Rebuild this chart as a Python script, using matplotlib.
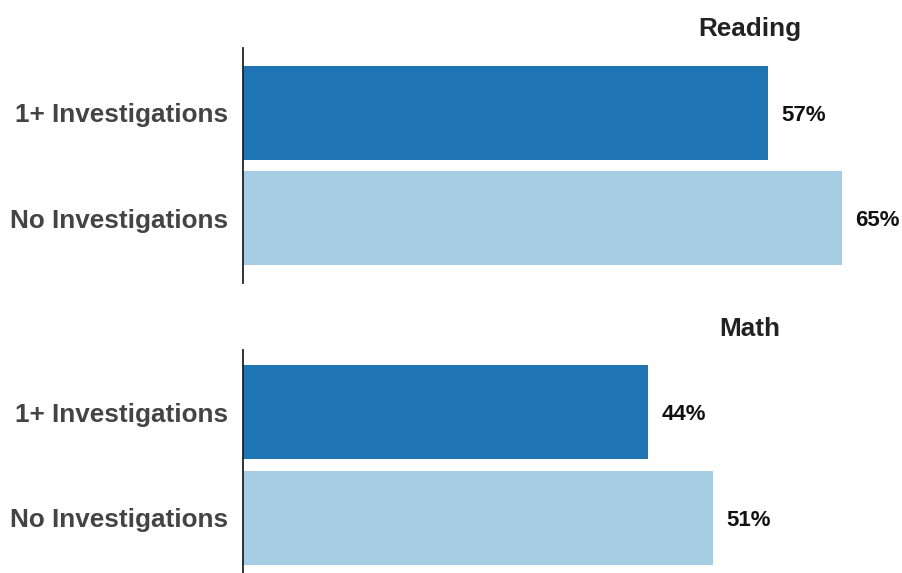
import matplotlib
matplotlib.use("Agg")
import matplotlib.pyplot as plt

categories = ["1+ Investigations", "No Investigations"]
reading = [57, 65]
math_vals = [44, 51]
titles = ["Reading", "Math"]
colors = ["#1f74b4", "#a6cde3"]

plt.rcParams['font.family'] = ['Liberation Sans', 'DejaVu Sans']

W, H = 903, 573
fig = plt.figure(figsize=(W / 100, H / 100), dpi=100)

def px_axes(left, top, right, bottom):
    return fig.add_axes([left / W, 1 - bottom / H, (right - left) / W, (bottom - top) / H])

scale = 9.215  # px per percent
x0 = 243
right = 893
xmax = (right - x0) / scale

panels = [
    (reading, 48, 283, (1.613, -0.616), "Reading", 29),
    (math_vals, 350, 573, (1.519, -0.585), "Math", 329),
]

for vals, top, bottom, ylim, title, ty in panels:
    ax = px_axes(x0, top, right, bottom)
    ax.barh(range(len(categories)), vals, height=0.89, color=colors)
    ax.set_xlim(0, xmax)
    ax.set_ylim(*ylim)
    ax.set_yticks(range(len(categories)))
    ax.set_yticklabels(categories, fontsize=18.8, fontweight='bold', color='#444444')
    ax.tick_params(axis='y', length=0, pad=11)
    ax.set_xticks([])
    for s in ['top', 'right', 'bottom']:
        ax.spines[s].set_visible(False)
    ax.spines['left'].set_color('#222222')
    ax.spines['left'].set_linewidth(1.3)
    for i, v in enumerate(vals):
        ax.annotate(f"{v}%", xy=(v, i), xytext=(9.5, -1.5), textcoords='offset points',
                    ha='left', va='center', fontsize=16, fontweight='bold', color='#111111')
    fig.text(750 / W, 1 - ty / H, title, ha='center', va='center',
             fontsize=18.8, fontweight='bold', color='#222222')

fig.savefig("out.png", dpi=100, facecolor='white')
